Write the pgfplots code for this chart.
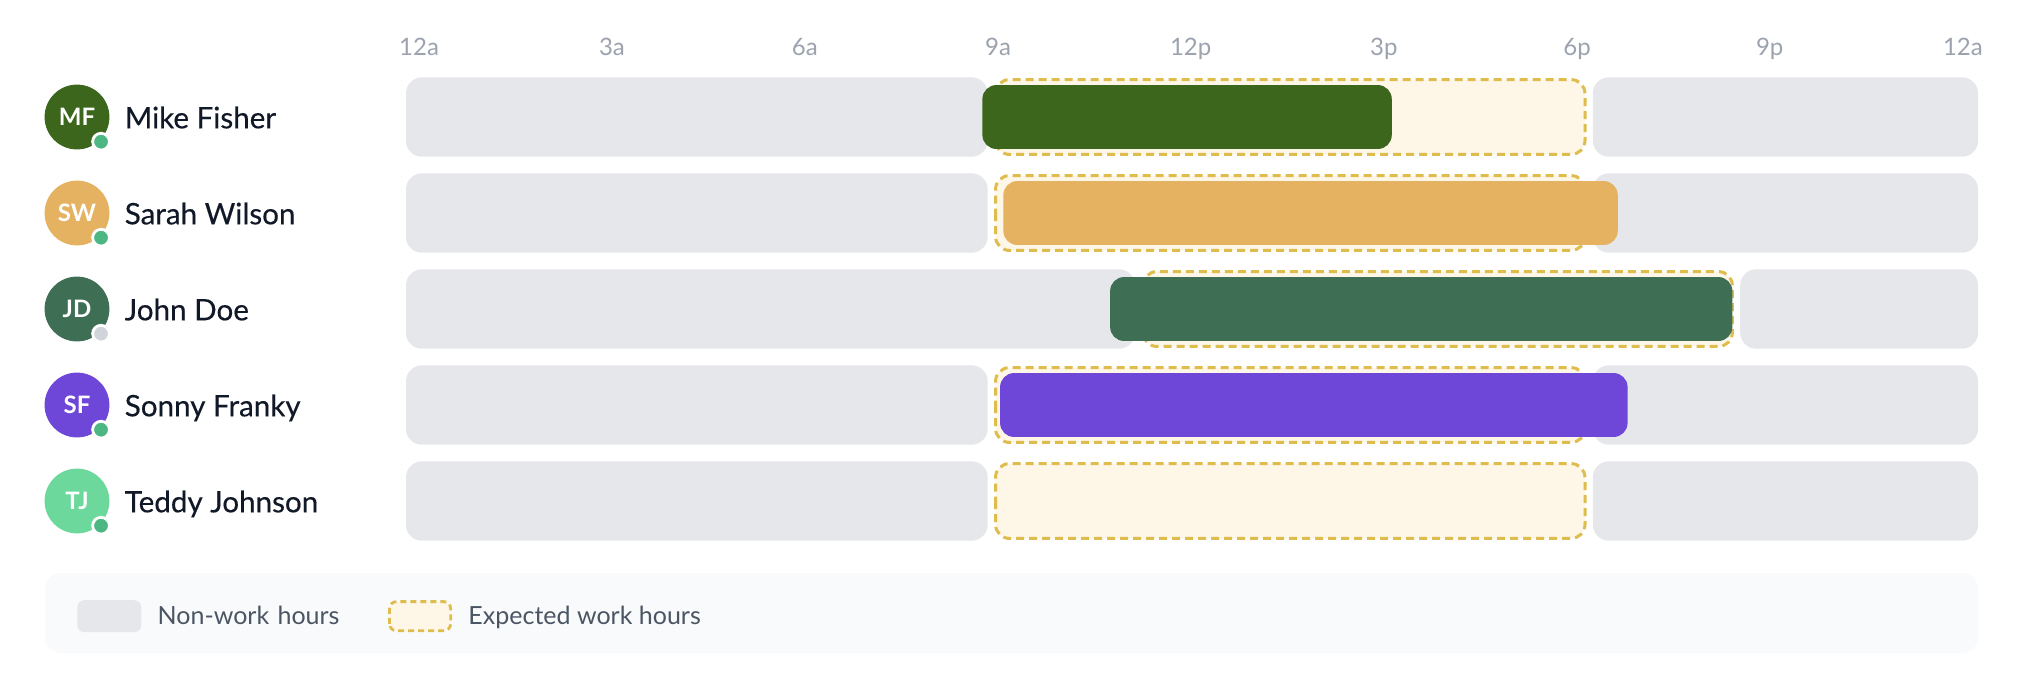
\documentclass[border=0pt]{standalone}
\usepackage{pgfplots}
\pgfplotsset{compat=1.18}
\usepackage{fontspec}
\setmainfont{Lato}
\newfontfamily\namefont[FakeBold=0.35]{Lato}
\definecolor{trackgray}{HTML}{E5E7EB}
\definecolor{cream}{HTML}{FEF6E7}
\definecolor{gold}{HTML}{DEBD4C}
\definecolor{cMF}{HTML}{3B661C}
\definecolor{cSW}{HTML}{E4B260}
\definecolor{cJD}{HTML}{3E6F55}
\definecolor{cSF}{HTML}{6E47D9}
\definecolor{cTJ}{HTML}{6DD89C}
\definecolor{online}{HTML}{4CB782}
\definecolor{offline}{HTML}{D1D5DB}
\definecolor{legbg}{HTML}{F9FAFB}
\definecolor{ticktxt}{HTML}{9CA3AF}
\definecolor{nametxt}{HTML}{111827}
\definecolor{legtxt}{HTML}{4B5563}

% one rounded segment: start, end, row, half height, style
\newcommand\seg[5]{%
  \pgfmathsetmacro\sega{#3-#4}%
  \pgfmathsetmacro\segb{#3+#4}%
  \edef\segtmp{\noexpand\addplot[#5] coordinates {(#1,#3) (#1,\sega) (#2,\sega) (#2,\segb) (#1,\segb) (#1,#3)};}%
  \segtmp}

\pgfplotsset{
  gbase/.style={draw=none, fill=trackgray, rounded corners=8pt, mark=none,
    legend image code/.code={\fill[trackgray, rounded corners=3.5pt] (0pt,-7.35pt) rectangle (32pt,8.65pt);}},
  gseg/.style={gbase, forget plot},
  ebase/.style={draw=gold, fill=cream, line width=1.5pt, dash pattern=on 4pt off 2.5pt, rounded corners=7pt, mark=none,
    legend image code/.code={\draw[draw=gold, fill=cream, line width=1.4pt, dash pattern=on 3pt off 2pt, rounded corners=3.5pt] (0.7pt,-6.65pt) rectangle (31.3pt,7.95pt);}},
  eseg/.style={ebase, forget plot},
  aMF/.style={draw=none, fill=cMF, rounded corners=7pt, mark=none, forget plot},
  aSW/.style={draw=none, fill=cSW, rounded corners=7pt, mark=none, forget plot},
  aJD/.style={draw=none, fill=cJD, rounded corners=7pt, mark=none, forget plot},
  aSF/.style={draw=none, fill=cSF, rounded corners=7pt, mark=none, forget plot},
  avatar/.style={only marks, mark=*, mark size=16pt, draw=#1, fill=#1, forget plot,
    point meta=explicit symbolic, nodes near coords,
    every node near coord/.append style={anchor=center, text=white, inner sep=0pt, font=\bfseries\fontsize{12}{14}\selectfont}},
}

\begin{document}
\begin{tikzpicture}
\path[use as bounding box, fill=white] (0pt,0pt) rectangle (1010pt,-338pt);
\fill[legbg, rounded corners=8pt] (22.5pt,-286.5pt) rectangle (989pt,-326.5pt);
\begin{axis}[
  at={(203pt,-34.5pt)}, anchor=north west,
  scale only axis, width=786pt, height=240pt,
  xmin=0, xmax=24, ymin=0.5, ymax=5.5,
  clip=false,
  axis line style={draw=none},
  tick style={draw=none},
  major tick length=0pt,
  xtick={0.2,3.145,6.09,9.04,11.98,14.93,17.88,20.82,23.77},
  xticklabels={12a,3a,6a,9a,12p,3p,6p,9p,12a},
  xticklabel pos=upper,
  xticklabel style={anchor=base, yshift=7pt, inner sep=0pt, text=ticktxt, font=\fontsize{12}{14}\selectfont},
  ytick={1,2,3,4,5},
  yticklabels={Teddy Johnson,Sonny Franky,John Doe,Sarah Wilson,Mike Fisher},
  yticklabel style={anchor=base west, xshift=-140.8pt, yshift=-5.65pt, inner sep=0pt, text=nametxt, font=\namefont\fontsize{14.8}{17}\selectfont},
  legend columns=2,
  legend cell align=left,
  legend style={at={(-0.2091,-0.14)}, anchor=west, draw=none, fill=none, inner sep=0pt, outer sep=0pt,
    nodes={inner sep=0pt, text=legtxt, font=\fontsize{12.5}{15}\selectfont, text height=9pt, text depth=2.5pt},
    /tikz/every odd column/.append style={column sep=8.2pt},
    /tikz/every even column/.append style={column sep=0pt}},
]
% non-work hours (grey track)
\seg{0}{8.88}{5}{0.4135}{gbase}
\addlegendentry[text width=115.2pt, align=left]{Non-work hours}
\seg{18.12}{24}{5}{0.4135}{gseg}
\seg{0}{8.88}{4}{0.4135}{gseg}
\seg{18.12}{24}{4}{0.4135}{gseg}
\seg{0}{11.13}{3}{0.4135}{gseg}
\seg{20.37}{24}{3}{0.4135}{gseg}
\seg{0}{8.88}{2}{0.4135}{gseg}
\seg{18.12}{24}{2}{0.4135}{gseg}
\seg{0}{8.88}{1}{0.4135}{gseg}
\seg{18.12}{24}{1}{0.4135}{gseg}
% expected work hours
\seg{9}{18}{5}{0.39}{ebase}
\addlegendentry{Expected work hours}
\seg{9}{18}{4}{0.39}{eseg}
\seg{11.25}{20.25}{3}{0.39}{eseg}
\seg{9}{18}{2}{0.39}{eseg}
\seg{9}{18}{1}{0.39}{eseg}
% actual worked hours
\seg{8.8}{15.05}{5}{0.333}{aMF}
\seg{9.12}{18.5}{4}{0.333}{aSW}
\seg{10.75}{20.25}{3}{0.333}{aJD}
\seg{9.07}{18.65}{2}{0.333}{aSF}
% avatars
\addplot[avatar=cMF] coordinates {(-5.023,5) [MF]};
\addplot[avatar=cSW] coordinates {(-5.023,4) [SW]};
\addplot[avatar=cJD] coordinates {(-5.023,3) [JD]};
\addplot[avatar=cSF] coordinates {(-5.023,2) [SF]};
\addplot[avatar=cTJ] coordinates {(-5.023,1) [TJ]};
% status dots
\addplot[scatter, only marks, scatter src=explicit symbolic, mark size=4.2pt, forget plot,
  scatter/classes={on={mark=*, draw=white, fill=online, line width=1.4pt}, off={mark=*, draw=white, fill=offline, line width=1.4pt}}]
  table[meta=st] {
  x y st
  -4.656 4.743 on
  -4.656 3.743 on
  -4.656 2.743 off
  -4.656 1.743 on
  -4.656 0.743 on
};
\end{axis}
\end{tikzpicture}
\end{document}
